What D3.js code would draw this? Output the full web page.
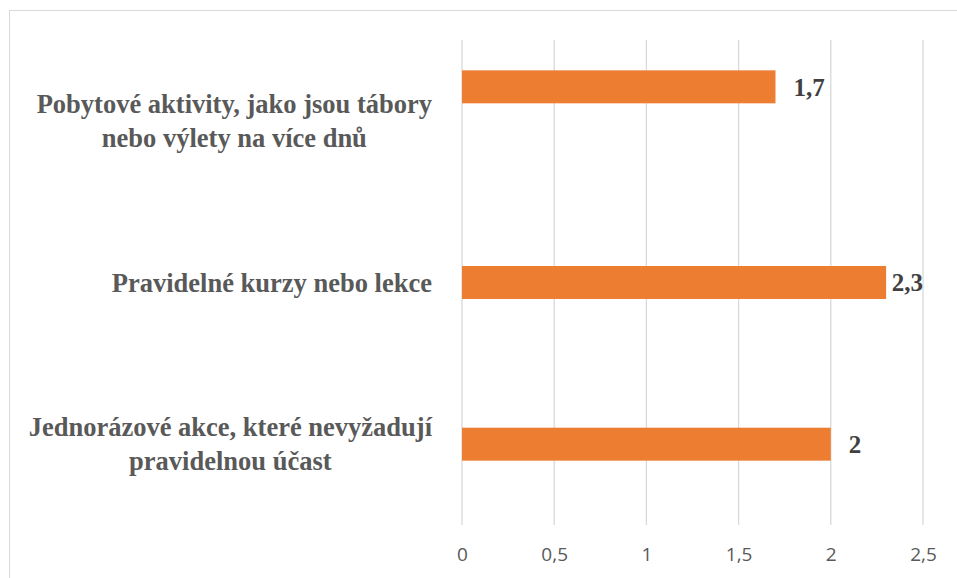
<!DOCTYPE html>
<html>
<head>
<meta charset="utf-8">
<script src="https://cdn.jsdelivr.net/npm/d3@7"></script>
<style>
  body { margin: 0; background: #fff; }
</style>
</head>
<body>
<svg width="957" height="578"></svg>
<script>
var categories = [
  ['Pobytové aktivity, jako jsou tábory', 'nebo výlety na více dnů'],
  ['Pravidelné kurzy nebo lekce'],
  ['Jednorázové akce, které nevyžadují', 'pravidelnou účast']
];
var values = [1.7, 2.3, 2];
var ticks = [0, 0.5, 1, 1.5, 2, 2.5];

var svg = d3.select('svg');
var width = 957, height = 578;

// frame of the chart area
svg.append('rect')
  .attr('x', 9.5).attr('y', 10.5)
  .attr('width', width + 10).attr('height', height + 10)
  .attr('fill', 'none')
  .attr('stroke', '#d9d9d9');

var x = d3.scaleLinear().domain([0, 2.5]).range([462, 923]);
var y = d3.scaleBand()
  .domain(d3.range(categories.length))
  .range([40, 525])
  .paddingInner(0.796)
  .paddingOuter(0.398);

var fmt = function(v) { return String(v).replace('.', ','); };

// gridlines
svg.append('g').selectAll('line').data(ticks)
  .enter().append('line')
    .attr('x1', d => x(d)).attr('x2', d => x(d))
    .attr('y1', 40).attr('y2', 525)
    .attr('stroke', '#d9d9d9')
    .attr('stroke-width', 1.3);

// x axis labels
var xAxis = svg.append('g')
  .attr('transform', 'translate(0,525)')
  .call(d3.axisBottom(x).tickValues(ticks).tickSize(0).tickPadding(23).tickFormat(fmt));
xAxis.select('.domain').remove();
xAxis.selectAll('text')
  .attr('font-family', '"Open Sans", "Liberation Sans", sans-serif')
  .attr('font-size', 19)
  .attr('fill', '#595959');

// the top bar sits higher than its label in the original
var nudge = function(i) { return i === 0 ? -34 : 0; };

svg.append('g').selectAll('rect').data(values)
  .enter().append('rect')
    .attr('x', x(0))
    .attr('y', (d, i) => y(i) + nudge(i))
    .attr('width', d => x(d) - x(0))
    .attr('height', y.bandwidth())
    .attr('fill', '#ed7d31');

// value labels
var labels = svg.append('g').selectAll('text').data(values)
  .enter().append('text')
    .attr('y', (d, i) => y(i) + nudge(i) + y.bandwidth() / 2)
    .attr('dy', '0.35em')
    .attr('font-family', '"Liberation Serif", "Times New Roman", serif')
    .attr('font-weight', 'bold')
    .attr('font-size', 25)
    .attr('fill', '#404040')
    .text(fmt);
labels.attr('x', function(d) {
  var w = this.getComputedTextLength();
  return Math.min(x(d) + 18, x.range()[1] - w);
});

// category labels: block right-aligned, lines centred inside block
var catG = svg.append('g');
categories.forEach(function(lines, i) {
  var g = catG.append('g');
  var texts = g.selectAll('text').data(lines)
    .enter().append('text')
      .attr('font-family', '"Liberation Serif", "Times New Roman", serif')
      .attr('font-weight', 'bold')
      .attr('font-size', 26.5)
      .attr('fill', '#595959')
      .attr('text-anchor', 'middle')
      .text(d => d);
  var maxW = d3.max(texts.nodes(), n => n.getComputedTextLength());
  var cx = 432 - maxW / 2;
  var lh = 34;
  var cy = y(i) + y.bandwidth() / 2;
  texts.attr('x', cx)
    .attr('y', (d, j) => cy + (j - (lines.length - 1) / 2) * lh)
    .attr('dy', '0.35em');
});
</script>
</body>
</html>
